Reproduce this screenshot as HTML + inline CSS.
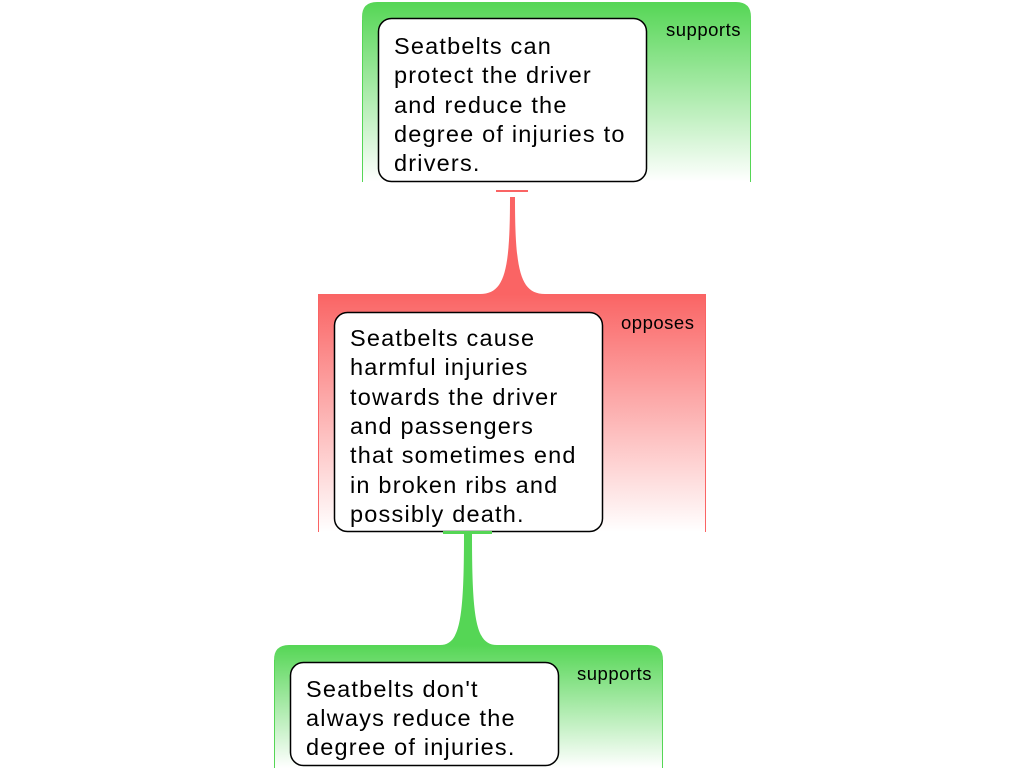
<!DOCTYPE html>
<html><head><meta charset="utf-8"><style>
html,body{margin:0;padding:0;background:#fff;width:1024px;height:768px;overflow:hidden}
svg text{font-family:"Liberation Sans",sans-serif}
.t{font-size:23.5px;fill:#000;letter-spacing:1.2px}
.l{font-size:18.5px;fill:#000;letter-spacing:0.5px}
</style></head><body>
<svg width="1024" height="768" viewBox="0 0 1024 768" xmlns="http://www.w3.org/2000/svg">
<defs>
<linearGradient id="g" x1="0" y1="0" x2="0" y2="1"><stop offset="0" stop-color="#55d655"/><stop offset="1" stop-color="#55d655" stop-opacity="0"/></linearGradient>
<linearGradient id="r" x1="0" y1="0" x2="0" y2="1"><stop offset="0" stop-color="#fa6464"/><stop offset="1" stop-color="#fa6464" stop-opacity="0"/></linearGradient>
</defs>
<path d="M362,182 V17 Q362,2 377,2 H736 Q751,2 751,17 V182 Z" fill="url(#g)"/>
<line x1="362.5" y1="20" x2="362.5" y2="182" stroke="#55d655"/>
<line x1="750.5" y1="20" x2="750.5" y2="182" stroke="#55d655"/>
<rect x="378.5" y="18.5" width="268" height="163" rx="13" fill="#fff" stroke="#000" stroke-width="1.5"/>
<text class="t" x="394" y="54">Seatbelts can</text>
<text class="t" x="394" y="83">protect the driver</text>
<text class="t" x="394" y="113">and reduce the</text>
<text class="t" x="394" y="142">degree of injuries to</text>
<text class="t" x="394" y="171">drivers.</text>
<text class="l" x="666" y="36">supports</text>
<rect x="496" y="190" width="32" height="2" fill="#fa6464"/>
<path d="M510,197 H515 C515,270 520,294 545,294 H480 C505,294 510,270 510,197 Z" fill="#fa6464"/>
<rect x="318" y="294" width="388" height="238" fill="url(#r)"/>
<line x1="318.5" y1="294" x2="318.5" y2="532" stroke="#fa6464"/>
<line x1="705.5" y1="294" x2="705.5" y2="532" stroke="#fa6464"/>
<rect x="334.5" y="312.5" width="268" height="219" rx="13" fill="#fff" stroke="#000" stroke-width="1.5"/>
<text class="t" x="350" y="346">Seatbelts cause</text>
<text class="t" x="350" y="375">harmful injuries</text>
<text class="t" x="350" y="405">towards the driver</text>
<text class="t" x="350" y="434">and passengers</text>
<text class="t" x="350" y="463">that sometimes end</text>
<text class="t" x="350" y="493">in broken ribs and</text>
<text class="t" x="350" y="522">possibly death.</text>
<text class="l" x="621" y="329">opposes</text>
<rect x="443" y="531" width="49" height="3" fill="#55d655"/>
<path d="M464,533 H472 C472,620 476,645 497,645 H440 C460,645 464,620 464,533 Z" fill="#55d655"/>
<path d="M274,768 V660 Q274,645 289,645 H648 Q663,645 663,660 V768 Z" fill="url(#g)"/>
<line x1="274.5" y1="660" x2="274.5" y2="768" stroke="#55d655"/>
<line x1="662.5" y1="660" x2="662.5" y2="768" stroke="#55d655"/>
<rect x="290.5" y="662.5" width="268" height="103" rx="13" fill="#fff" stroke="#000" stroke-width="1.5"/>
<text class="t" x="306" y="697">Seatbelts don't</text>
<text class="t" x="306" y="726">always reduce the</text>
<text class="t" x="306" y="755">degree of injuries.</text>
<text class="l" x="577" y="680">supports</text>
</svg>
</body></html>
